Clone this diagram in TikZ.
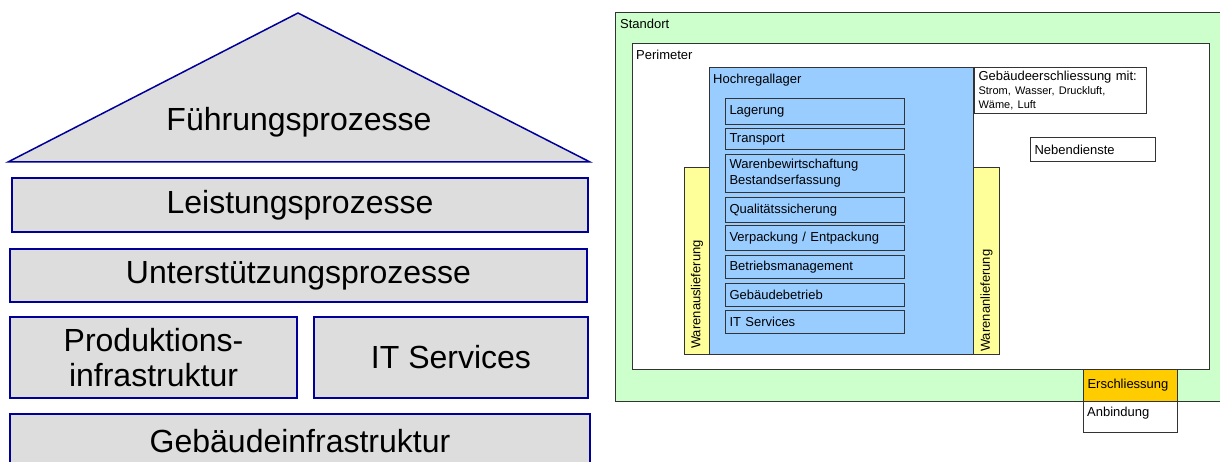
\documentclass[tikz,border=0pt]{standalone}
\usepackage{fontspec}
\setmainfont{Liberation Sans}
\usetikzlibrary{positioning}
\usetikzlibrary{calc}
\definecolor{proc-blue}{HTML}{000099}
\definecolor{proc-gray}{HTML}{DDDDDD}
\definecolor{site-green}{HTML}{CCFFCC}
\definecolor{hrl-blue}{HTML}{99CCFF}
\definecolor{goods-yellow}{HTML}{FFFF99}
\definecolor{access-orange}{HTML}{FFCC00}
\definecolor{frame-gray}{HTML}{333333}

\begin{document}
\begin{tikzpicture}[x=1pt, y=-1pt,
  layer/.style={draw=proc-blue, fill=proc-gray, line width=1.5pt},
  layer box/.style={layer, inner sep=0pt, align=center, font=\fontsize{32}{35}\selectfont},
  area/.style={draw=frame-gray, line width=1pt, inner sep=0pt, anchor=north west},
  tag/.style={inner sep=0pt, anchor=north west, font=\fontsize{13}{15.5}\selectfont},
  task/.style={area, fill=hrl-blue, minimum width=179pt, inner xsep=4pt, text width=171pt, align=left, font=\fontsize{13}{16}\selectfont},
  goods/.style={area, fill=goods-yellow, minimum height=187pt}]
\useasboundingbox (0,0) rectangle (1220,462);

% process house
\draw[layer] (8,162) -- (298,13) -- (590,162) -- cycle;
\node[font=\fontsize{32}{35}\selectfont] (fuehrung) at (299,122) {Führungsprozesse};
\node[layer box, minimum width=576pt, minimum height=54pt] (leistung) at (300,205) {Leistungsprozesse};
\node[layer box, minimum width=577pt, minimum height=53pt] (unterstuetzung) at (298.5,275.5) {Unterstützungsprozesse};
\node[layer box, minimum width=287pt, minimum height=81pt] (prodinfra) at (153.5,357.5) {Produktions-\\infrastruktur};
\node[layer box, minimum width=274pt, minimum height=81pt] (itserv) at (451,357.5) {IT Services};
\node[layer box, minimum width=580pt, minimum height=54pt] (gebinfra) at (300,441) {Gebäudeinfrastruktur};

% site plan
\node[area, fill=site-green, minimum width=630pt, minimum height=389pt] (standort) at (615,12) {};
\node[tag] (standort-lbl) at ([shift={(5,7)}]standort.north west) {Standort};
\node[area, fill=white, minimum width=577pt, minimum height=326pt] (perimeter) at (632,43) {};
\node[tag] (perimeter-lbl) at ([shift={(4,7)}]perimeter.north west) {Perimeter};
\node[goods, minimum width=25pt] (auslieferung) at (684,167) {};
\node[goods, minimum width=26pt] (anlieferung) at (973,167) {};
\node[area, fill=hrl-blue, minimum width=264pt, minimum height=287pt] (hrl) at (709,67) {};
\node[tag] (hrl-lbl) at ([shift={(4,7)}]hrl.north west) {Hochregallager};
\node[tag, rotate=90, anchor=west] (auslieferung-lbl) at ([yshift=6pt]auslieferung.south) {Warenauslieferung};
\node[tag, rotate=90, anchor=west] (anlieferung-lbl) at ([yshift=3pt]anlieferung.south) {Warenanlieferung};
\foreach \ypos/\hgt/\txt [count=\i] in {
    98/26/Lagerung,
    128/21/Transport,
    154/38/Warenbewirtschaftung\\Bestandserfassung,
    197/25/Qualitätssicherung,
    225/25/{Verpackung / Entpackung},
    255/23/Betriebsmanagement,
    283/23/Gebäudebetrieb,
    310/23/IT Services} {
  \node[task, minimum height=\hgt pt] (task-\i) at (725,\ypos) {\txt};
}
\node[area, fill=white, minimum width=172pt, minimum height=46pt, inner xsep=4pt, text width=164pt, align=left, font=\fontsize{13}{14}\selectfont]
  (erschl-geb)
  at (974,67)
  {Gebäudeerschliessung mit:\\[1pt]\fontsize{11}{13}\selectfont Strom, Wasser, Druckluft,\\Wäme, Luft};
\node[area, fill=white, minimum width=125pt, minimum height=24pt, inner xsep=4pt, text width=117pt, align=left, font=\fontsize{13}{15.5}\selectfont]
  (nebendienste)
  at (1030,137)
  {Nebendienste};
\node[area, fill=access-orange, minimum width=94pt, minimum height=32pt, inner xsep=4pt, text width=86pt, align=left, font=\fontsize{13}{15.5}\selectfont]
  (erschliessung)
  at (1083,369)
  {Erschliessung};
\node[area, fill=white, minimum width=94pt, minimum height=31pt] (anbindung) at (1083,401) {};
\node[tag] (anbindung-lbl) at ([shift={(4,6)}]anbindung.north west) {Anbindung};
\end{tikzpicture}
\end{document}
